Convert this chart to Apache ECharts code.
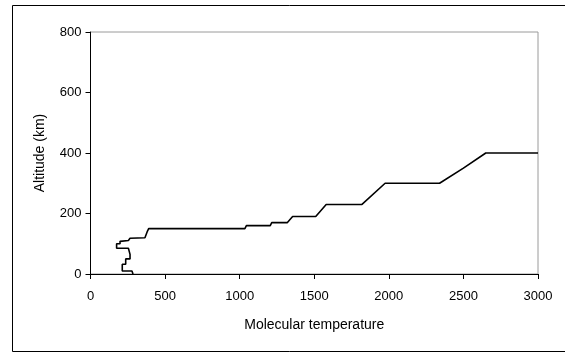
<!DOCTYPE html>
<html>
<head>
<meta charset="utf-8">
<script src="https://cdn.jsdelivr.net/npm/echarts@6/dist/echarts.min.js"></script>
<style>
html,body{margin:0;padding:0;background:#fff;}
#c{width:565px;height:353px;}
</style>
</head>
<body>
<div id="c"></div>
<script>
// Molecular temperature (x) vs altitude in km (y), traced in drawing order
const temperature = [285, 278, 213, 213, 236, 236, 265, 265, 254, 254, 175, 175, 198, 198, 254, 265, 365, 382, 390, 1035, 1045, 1205, 1215, 1320, 1355, 1510, 1580, 1820, 1975, 2340, 2500, 2650, 3000];
const altitude    = [0,   10,  10,  32,  32,  50,  50,  65,  65,  85,  85,  100, 100, 108, 111, 118, 120, 142, 150, 150,  160,  160,  170,  170,  190,  190,  230,  230,  300,  300,  350,  400,  400];
const xTicks = [0, 500, 1000, 1500, 2000, 2500, 3000];
const yTicks = [0, 200, 400, 600, 800];

const pts = temperature.map((t, i) => [t, altitude[i]]);
const font = 'Liberation Sans, Arial, sans-serif';

const chart = echarts.init(document.getElementById('c'), null, {renderer: 'canvas'});
chart.setOption({
  animation: false,
  backgroundColor: '#fff',
  graphic: [{
    type: 'rect',
    shape: {x: 12.5, y: 5.5, width: 560, height: 346},
    style: {fill: 'none', stroke: '#000', lineWidth: 1},
    silent: true
  }],
  grid: {
    left: 90.5, right: 27, top: 32, bottom: 79,
    show: true, borderColor: '#9a9a9a', borderWidth: 1,
    containLabel: false
  },
  xAxis: {
    type: 'value',
    min: xTicks[0], max: xTicks[xTicks.length - 1], interval: 500,
    name: 'Molecular temperature',
    nameLocation: 'middle', nameGap: 44,
    nameTextStyle: {fontFamily: font, fontSize: 14, color: '#000'},
    axisLine: {show: true, lineStyle: {color: '#000', width: 1}},
    axisTick: {show: true, inside: false, length: 5, lineStyle: {color: '#000'}},
    axisLabel: {fontFamily: font, fontSize: 13, color: '#000', margin: 16, formatter: v => String(v)},
    splitLine: {show: false}
  },
  yAxis: {
    type: 'value',
    min: yTicks[0], max: yTicks[yTicks.length - 1], interval: 200,
    name: 'Altitude (km)',
    nameLocation: 'middle', nameGap: 43,
    nameTextStyle: {fontFamily: font, fontSize: 14, color: '#000'},
    axisLine: {show: true, lineStyle: {color: '#000', width: 1}},
    axisTick: {show: true, inside: false, length: 5, lineStyle: {color: '#000'}},
    axisLabel: {fontFamily: font, fontSize: 13, color: '#000', margin: 9, formatter: v => String(v)},
    splitLine: {show: false}
  },
  series: [{
    type: 'line',
    data: pts,
    showSymbol: false,
    symbol: 'none',
    lineStyle: {color: '#000', width: 1.6},
    z: 3
  }]
});
</script>
</body>
</html>
